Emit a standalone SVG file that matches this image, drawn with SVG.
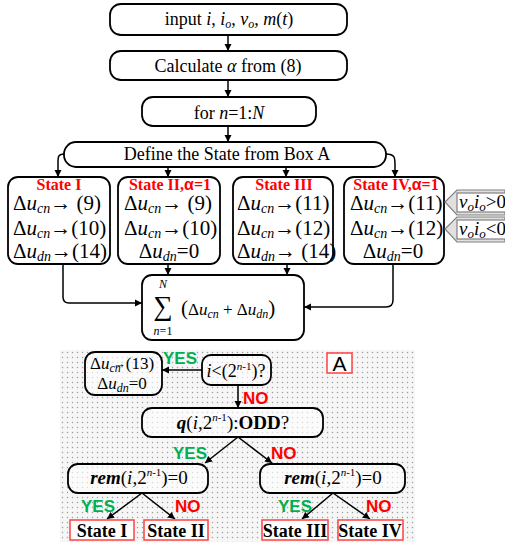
<svg xmlns="http://www.w3.org/2000/svg" width="505" height="542" viewBox="0 0 505 542">
<defs>
<marker id="ah" markerWidth="8" markerHeight="8" refX="7" refY="4" orient="auto" markerUnits="userSpaceOnUse">
<path d="M0,0.5 L7,4 L0,7.5 Z" fill="#000"/>
</marker>
<pattern id="dots" width="5" height="5" patternUnits="userSpaceOnUse">
<rect width="5" height="5" fill="#f6f6f6"/>
<circle cx="2.5" cy="2.5" r="0.75" fill="#a0a0a0"/>
</pattern>
</defs>
<style>
.box{fill:#fff;stroke:#000;stroke-width:1.8}
.dbox{fill:#fff;fill-opacity:0.6;stroke:#000;stroke-width:1.8}
.t{font-family:"Liberation Serif","Times New Roman",serif;fill:#000}
.i{font-style:italic}
.b{font-weight:bold}
.red{fill:#ff0000;font-weight:bold}
.yes{font-family:"Liberation Sans",Arial,sans-serif;font-weight:bold;fill:#00b050;font-size:17px}
.no{font-family:"Liberation Sans",Arial,sans-serif;font-weight:bold;fill:#ff0000;font-size:17px}
.arr{fill:none;stroke:#000;stroke-width:1.5;marker-end:url(#ah)}
.rb{fill:#fff;stroke:#ff4040;stroke-width:1.5}
.cal{fill:#e0e0e0;stroke:#808080;stroke-width:1.2}
.calin{fill:#fff;stroke:#808080;stroke-width:1.2}
</style>

<rect x="60" y="350" width="355" height="192" fill="url(#dots)"/>

<g id="connectors">
<line class="arr" x1="228" y1="35" x2="228" y2="51"/>
<line class="arr" x1="228" y1="80" x2="228" y2="97"/>
<line class="arr" x1="228" y1="126" x2="228" y2="142"/>
<path class="arr" d="M64,154 C58,154 58,157 58,163 L58,177"/>
<path class="arr" d="M386,154 C395,154 395,158 395,165 L395,177"/>
<line class="arr" x1="168" y1="167" x2="168" y2="177"/>
<line class="arr" x1="286" y1="167" x2="286" y2="177"/>
<path class="arr" d="M63,264 L63,297 Q63,303 69,303 L142,303"/>
<line class="arr" x1="168" y1="264" x2="168" y2="275"/>
<line class="arr" x1="287" y1="264" x2="287" y2="275"/>
<path class="arr" d="M393,264 L393,300 Q393,307 386,307 L304,307"/>
<line class="arr" x1="202" y1="370" x2="162" y2="370"/>
<line class="arr" x1="238" y1="385" x2="238" y2="408"/>
<line class="arr" x1="238" y1="437" x2="205" y2="463"/>
<line class="arr" x1="238" y1="437" x2="272" y2="463"/>
<line class="arr" x1="142" y1="493" x2="107" y2="519"/>
<line class="arr" x1="142" y1="493" x2="175" y2="519"/>
<line class="arr" x1="333" y1="493" x2="302" y2="519"/>
<line class="arr" x1="333" y1="493" x2="370" y2="519"/>
</g>

<g id="n-input">
<rect class="box" x="110" y="4" width="237" height="31" rx="11"/>
<text class="t" x="229" y="25" font-size="18" text-anchor="middle">input <tspan class="i">i</tspan>, <tspan class="i">i</tspan><tspan class="i" font-size="12" dy="3">o</tspan><tspan dy="-3">, </tspan><tspan class="i">v</tspan><tspan class="i" font-size="12" dy="3">o</tspan><tspan dy="-3">, </tspan><tspan class="i">m</tspan>(<tspan class="i">t</tspan>)</text>
</g>

<g id="n-alpha">
<rect class="box" x="110" y="51" width="237" height="29" rx="11"/>
<text class="t" x="228" y="72" font-size="18" text-anchor="middle">Calculate <tspan class="i">α</tspan> from (8)</text>
</g>

<g id="n-for">
<rect class="box" x="142" y="97" width="174" height="29" rx="11"/>
<text class="t" x="229" y="119" font-size="18" text-anchor="middle">for  <tspan class="i">n</tspan>=1:<tspan class="i">N</tspan></text>
</g>

<g id="n-define">
<rect class="box" x="64" y="142" width="322" height="25" rx="12"/>
<text class="t" x="227" y="160" font-size="18" text-anchor="middle">Define the State from Box A</text>
</g>

<g id="n-state1">
<rect class="box" x="8" y="177" width="102" height="87" rx="10"/>
<text class="t red" x="59" y="190" font-size="16" text-anchor="middle">State I</text>
<text class="t" x="13" y="210" font-size="21">Δ<tspan class="i">u</tspan><tspan class="i" font-size="14" dy="3">cn</tspan><tspan dy="-3">→ (9)</tspan></text>
<text class="t" x="13" y="235" font-size="21">Δ<tspan class="i">u</tspan><tspan class="i" font-size="14" dy="3">cn</tspan><tspan dy="-3">→(10)</tspan></text>
<text class="t" x="13" y="258" font-size="21">Δ<tspan class="i">u</tspan><tspan class="i" font-size="14" dy="3">dn</tspan><tspan dy="-3">→(14)</tspan></text>
</g>

<g id="n-state2">
<rect class="box" x="118" y="177" width="102" height="87" rx="10"/>
<text class="t red" x="170" y="190" font-size="16" text-anchor="middle">State II,<tspan font-family="Liberation Sans,Arial,sans-serif">α</tspan>=1</text>
<text class="t" x="124" y="210" font-size="21">Δ<tspan class="i">u</tspan><tspan class="i" font-size="14" dy="3">cn</tspan><tspan dy="-3">→ (9)</tspan></text>
<text class="t" x="124" y="235" font-size="21">Δ<tspan class="i">u</tspan><tspan class="i" font-size="14" dy="3">cn</tspan><tspan dy="-3">→(10)</tspan></text>
<text class="t" x="169" y="258" font-size="21" text-anchor="middle">Δ<tspan class="i">u</tspan><tspan class="i" font-size="14" dy="3">dn</tspan><tspan dy="-3">=0</tspan></text>
</g>

<g id="n-state3">
<rect class="box" x="233" y="177" width="100" height="87" rx="10"/>
<text class="t red" x="284" y="190" font-size="16" text-anchor="middle">State III</text>
<text class="t" x="237" y="210" font-size="21">Δ<tspan class="i">u</tspan><tspan class="i" font-size="14" dy="3">cn</tspan><tspan dy="-3">→(11)</tspan></text>
<text class="t" x="237" y="235" font-size="21">Δ<tspan class="i">u</tspan><tspan class="i" font-size="14" dy="3">cn</tspan><tspan dy="-3">→(12)</tspan></text>
<text class="t" x="237" y="258" font-size="21">Δ<tspan class="i">u</tspan><tspan class="i" font-size="14" dy="3">dn</tspan><tspan dy="-3">→ (14)</tspan></text>
</g>

<g id="n-state4">
<rect class="box" x="344" y="177" width="100" height="87" rx="10"/>
<text class="t red" x="396" y="190" font-size="16" text-anchor="middle">State IV,<tspan font-family="Liberation Sans,Arial,sans-serif">α</tspan>=1</text>
<text class="t" x="350" y="210" font-size="21">Δ<tspan class="i">u</tspan><tspan class="i" font-size="14" dy="3">cn</tspan><tspan dy="-3">→(11)</tspan></text>
<text class="t" x="350" y="235" font-size="21">Δ<tspan class="i">u</tspan><tspan class="i" font-size="14" dy="3">cn</tspan><tspan dy="-3">→(12)</tspan></text>
<text class="t" x="393" y="258" font-size="21" text-anchor="middle">Δ<tspan class="i">u</tspan><tspan class="i" font-size="14" dy="3">dn</tspan><tspan dy="-3">=0</tspan></text>
</g>

<g id="n-cond1">
<polygon class="cal" points="445,202 457,190 505,190 505,215 457,215"/>
<rect class="calin" x="457" y="193" width="50" height="19"/>
<text class="t i" x="459" y="208" font-size="19">v<tspan font-size="13" dy="3">o</tspan><tspan dy="-3">i</tspan><tspan font-size="13" dy="3">o</tspan><tspan font-style="normal" dy="-3">&gt;0</tspan></text>
</g>

<g id="n-cond2">
<polygon class="cal" points="445,229 457,217 505,217 505,242 457,242"/>
<rect class="calin" x="457" y="220" width="50" height="19"/>
<text class="t i" x="459" y="235" font-size="19">v<tspan font-size="13" dy="3">o</tspan><tspan dy="-3">i</tspan><tspan font-size="13" dy="3">o</tspan><tspan font-style="normal" dy="-3">&lt;0</tspan></text>
</g>

<g id="n-sum">
<rect class="box" x="142" y="275" width="162" height="65" rx="10"/>
<text class="t i" x="163" y="288" font-size="12" text-anchor="middle">N</text>
<text class="t" x="163" y="315" font-size="27" text-anchor="middle">∑</text>
<text class="t" x="163" y="335" font-size="12" text-anchor="middle"><tspan class="i">n</tspan>=1</text>
<text class="t" x="181" y="315" font-size="17"><tspan font-size="21">(</tspan>Δ<tspan class="i">u</tspan><tspan class="i" font-size="12" dy="3">cn</tspan><tspan dy="-3"> + Δ</tspan><tspan class="i">u</tspan><tspan class="i" font-size="12" dy="3">dn</tspan><tspan dy="-3" font-size="21">)</tspan></text>
</g>

<g id="n-boxA-label">
<rect class="rb" x="327" y="353" width="25" height="20"/>
<text x="339.5" y="371" font-family="Liberation Sans,Arial,sans-serif" font-size="21" text-anchor="middle" fill="#000">A</text>
</g>

<g id="n-du13">
<rect class="dbox" x="85" y="352" width="77" height="43" rx="10"/>
<text class="t" x="90" y="369" font-size="17">Δ<tspan class="i">u</tspan><tspan class="i" font-size="12" dy="3">cn</tspan><tspan dx="-8" dy="-4" font-size="13">→</tspan><tspan dy="1">(13)</tspan></text>
<text class="t" x="122" y="389" font-size="17" text-anchor="middle">Δ<tspan class="i">u</tspan><tspan class="i" font-size="12" dy="3">dn</tspan><tspan dy="-3">=0</tspan></text>
</g>

<g id="n-ilt">
<rect class="dbox" x="202" y="355" width="69" height="30" rx="9"/>
<text class="t" x="236" y="377" font-size="18" text-anchor="middle"><tspan class="i">i</tspan>&lt;(2<tspan font-size="11" dy="-7"><tspan class="i">n</tspan>-1</tspan><tspan dy="7">)?</tspan></text>
</g>

<g id="n-q">
<rect class="dbox" x="142" y="408" width="181" height="29" rx="10"/>
<text class="t" x="233" y="429" font-size="19" text-anchor="middle"><tspan class="b i">q</tspan>(<tspan class="i">i</tspan>,2<tspan font-size="11" dy="-8"><tspan class="i">n</tspan>-1</tspan><tspan dy="8">):</tspan><tspan class="b">ODD</tspan>?</text>
</g>

<g id="n-rem1">
<rect class="dbox" x="68" y="464" width="140" height="29" rx="10"/>
<text class="t" x="139" y="484" font-size="19" text-anchor="middle"><tspan class="b i">rem</tspan>(<tspan class="i">i</tspan>,2<tspan font-size="11" dy="-8"><tspan class="i">n</tspan>-1</tspan><tspan dy="8">)=0</tspan></text>
</g>

<g id="n-rem2">
<rect class="dbox" x="260" y="464" width="145" height="29" rx="10"/>
<text class="t" x="333" y="484" font-size="19" text-anchor="middle"><tspan class="b i">rem</tspan>(<tspan class="i">i</tspan>,2<tspan font-size="11" dy="-8"><tspan class="i">n</tspan>-1</tspan><tspan dy="8">)=0</tspan></text>
</g>

<g id="n-out1">
<rect class="rb" x="70" y="520" width="64" height="20"/>
<text class="t b" x="102" y="537" font-size="18" text-anchor="middle">State I</text>
</g>
<g id="n-out2">
<rect class="rb" x="144" y="520" width="64" height="20"/>
<text class="t b" x="176" y="537" font-size="18" text-anchor="middle">State II</text>
</g>
<g id="n-out3">
<rect class="rb" x="262" y="520" width="66" height="20"/>
<text class="t b" x="295" y="537" font-size="18" text-anchor="middle">State III</text>
</g>
<g id="n-out4">
<rect class="rb" x="338" y="520" width="65" height="20"/>
<text class="t b" x="370" y="537" font-size="18" text-anchor="middle">State IV</text>
</g>

<g id="labels">
<text class="yes" x="163" y="364">YES</text>
<text class="no" x="243" y="404">NO</text>
<text class="yes" x="173" y="459">YES</text>
<text class="no" x="271" y="459">NO</text>
<text class="yes" x="81" y="512">YES</text>
<text class="no" x="175" y="512">NO</text>
<text class="yes" x="278" y="512">YES</text>
<text class="no" x="366" y="512">NO</text>
</g>
</svg>
